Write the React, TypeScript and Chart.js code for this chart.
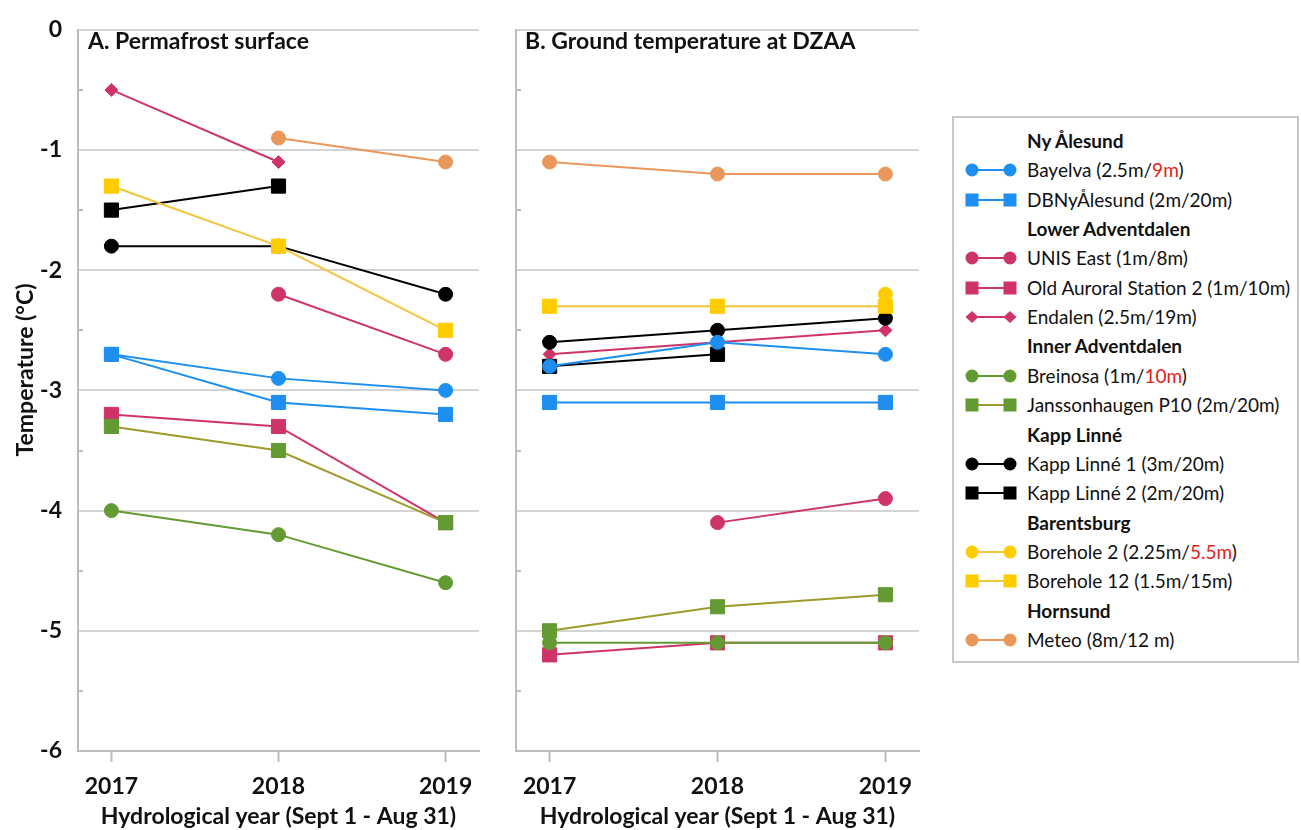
import React, { useEffect, useRef } from 'react';
import { Chart, registerables } from 'chart.js';
Chart.register(...registerables);

// ---------- data ----------
const YEARS = [2017, 2018, 2019];
const Y_MIN = -6;
const Y_MAX = 0;

const SERIES_NAMES = [
  'Bayelva', 'DBNyÅlesund', 'UNIS East', 'Old Auroral Station 2', 'Endalen',
  'Breinosa', 'Janssonhaugen P10', 'Kapp Linné 1', 'Kapp Linné 2',
  'Borehole 2', 'Borehole 12', 'Meteo',
];

// Panel A: permafrost surface
const A_BAYELVA = [-2.7, -2.9, -3.0];
const A_DBNY = [-2.7, -3.1, -3.2];
const A_UNIS = [null, -2.2, -2.7];
const A_OLDAUR = [-3.2, -3.3, -4.1];
const A_ENDALEN = [-0.5, -1.1, null];
const A_BREINOSA = [-4.0, -4.2, -4.6];
const A_JANSS = [-3.3, -3.5, -4.1];
const A_KL1 = [-1.8, -1.8, -2.2];
const A_KL2 = [-1.5, -1.3, null];
const A_BH2 = [null, null, null];
const A_BH12 = [-1.3, -1.8, -2.5];
const A_METEO = [null, -0.9, -1.1];

// Panel B: ground temperature at DZAA
const B_BAYELVA = [-2.8, -2.6, -2.7];
const B_DBNY = [-3.1, -3.1, -3.1];
const B_UNIS = [null, -4.1, -3.9];
const B_OLDAUR = [-5.2, -5.1, -5.1];
const B_ENDALEN = [-2.7, -2.6, -2.5];
const B_BREINOSA = [-5.1, -5.1, -5.1];
const B_JANSS = [-5.0, -4.8, -4.7];
const B_KL1 = [-2.6, -2.5, -2.4];
const B_KL2 = [-2.8, -2.7, null];
const B_BH2 = [null, null, -2.2];
const B_BH12 = [-2.3, -2.3, -2.3];
const B_METEO = [-1.1, -1.2, -1.2];

const PANEL_A = [A_BAYELVA, A_DBNY, A_UNIS, A_OLDAUR, A_ENDALEN, A_BREINOSA, A_JANSS, A_KL1, A_KL2, A_BH2, A_BH12, A_METEO];
const PANEL_B = [B_BAYELVA, B_DBNY, B_UNIS, B_OLDAUR, B_ENDALEN, B_BREINOSA, B_JANSS, B_KL1, B_KL2, B_BH2, B_BH12, B_METEO];

const PANEL_TITLES = ['A. Permafrost surface', 'B. Ground temperature at DZAA'];
const X_TITLE = 'Hydrological year (Sept 1 - Aug 31)';
const Y_TITLE = 'Temperature (°C)';

// legend texts ({...} = red part)
const LEGEND_ROWS: (string | number)[] = [
  'Ny Ålesund', 0, 1, 'Lower Adventdalen', 2, 3, 4, 'Inner Adventdalen', 5, 6,
  'Kapp Linné', 7, 8, 'Barentsburg', 9, 10, 'Hornsund', 11,
];
const LEGEND_LABELS = [
  'Bayelva (2.5m/{9m})', 'DBNyÅlesund (2m/20m)', 'UNIS East (1m/8m)',
  'Old Auroral Station 2 (1m/10m)', 'Endalen (2.5m/19m)', 'Breinosa (1m/{10m})',
  'Janssonhaugen P10 (2m/20m)', 'Kapp Linné 1 (3m/20m)', 'Kapp Linné 2 (2m/20m)',
  'Borehole 2 (2.25m/{5.5m})', 'Borehole 12 (1.5m/15m)', 'Meteo (8m/12 m)',
];

// ---------- styles ----------
const BLUE = '#1f8fef';
const PINK = '#cf3469';
const GREEN = '#639a32';
const OLIVE = '#a09a2c';
const YELLOW = '#ffcc00';
const YELLOW_LINE = '#f3c63a';
const ORANGE = '#e9975b';
const BLACK = '#000000';
const GRID = '#d4d4d4';
const AXIS = '#bdbdbd';
const RED = '#e3221b';
const FONT = 'Lato, "Open Sans", sans-serif';

type St = { fill: string; line: string; shape: string; order: number };
const STYLES: St[] = [
  { fill: BLUE, line: BLUE, shape: 'circle', order: 4 },
  { fill: BLUE, line: BLUE, shape: 'rect', order: 3 },
  { fill: PINK, line: PINK, shape: 'circle', order: 10 },
  { fill: PINK, line: PINK, shape: 'rect', order: 11 },
  { fill: PINK, line: PINK, shape: 'rectRot', order: 9 },
  { fill: GREEN, line: GREEN, shape: 'circle', order: 1 },
  { fill: GREEN, line: OLIVE, shape: 'rect', order: 2 },
  { fill: BLACK, line: BLACK, shape: 'circle', order: 7 },
  { fill: BLACK, line: BLACK, shape: 'rect', order: 8 },
  { fill: YELLOW, line: YELLOW_LINE, shape: 'circle', order: 6 },
  { fill: YELLOW, line: YELLOW_LINE, shape: 'rect', order: 5 },
  { fill: ORANGE, line: ORANGE, shape: 'circle', order: 12 },
];

function radiusFor(shape: string) {
  if (shape === 'rect') return 10;
  if (shape === 'rectRot') return 6.5;
  return 7;
}

function makeDatasets(values: (number | null)[][]) {
  return values.map((vals, i) => {
    const st = STYLES[i];
    return {
      label: SERIES_NAMES[i],
      data: YEARS.map((x, j) => ({ x, y: vals[j] })).filter((p) => p.y !== null),
      borderColor: st.line,
      backgroundColor: st.fill,
      pointBackgroundColor: st.fill,
      pointBorderColor: st.fill,
      pointBorderWidth: 1,
      pointStyle: st.shape,
      pointRadius: radiusFor(st.shape),
      borderWidth: 2,
      order: st.order,
      showLine: true,
    };
  });
}

const minorTicks = {
  id: 'minorTicks',
  beforeDatasetsDraw(chart: any) {
    const y = chart.scales.y;
    const ctx = chart.ctx;
    const left = chart.chartArea.left;
    ctx.save();
    ctx.strokeStyle = AXIS;
    ctx.lineWidth = 2;
    y.ticks.forEach((t: any) => {
      if (!Number.isInteger(t.value)) {
        const py = Math.round(y.getPixelForValue(t.value));
        ctx.beginPath();
        ctx.moveTo(left, py);
        ctx.lineTo(left + 5, py);
        ctx.stroke();
      }
    });
    ctx.restore();
  },
};

function makeOptions(showY: boolean, yWidth: number, padRight: number) {
  return {
    responsive: false,
    animation: false,
    layout: { padding: { top: 18, right: padRight, left: 0, bottom: 0 } },
    plugins: { legend: { display: false }, tooltip: { enabled: false }, title: { display: false } },
    scales: {
      x: {
        type: 'linear',
        min: 2016.8,
        max: 2019.2,
        afterFit: (s: any) => { s.height = 79; },
        grid: { drawOnChartArea: false, drawTicks: true, tickLength: 11, tickColor: AXIS, tickWidth: 2 },
        border: { display: true, color: AXIS, width: 2 },
        ticks: {
          stepSize: 1,
          includeBounds: false,
          padding: 11,
          color: '#111',
          font: { family: FONT, size: 23, weight: 'bold' },
          callback: (v: number) => (Number.isInteger(v) ? String(v) : ''),
        },
        title: {
          display: true,
          text: X_TITLE,
          color: '#111',
          font: { family: FONT, size: 23, weight: 'bold' },
          padding: { top: 0, bottom: 0 },
        },
      },
      y: {
        type: 'linear',
        min: Y_MIN,
        max: Y_MAX,
        afterFit: (s: any) => { s.width = yWidth; },
        grid: {
          drawTicks: false,
          lineWidth: 2,
          color: (c: any) => (c.tick && Number.isInteger(c.tick.value) ? GRID : 'rgba(0,0,0,0)'),
        },
        border: { display: true, color: AXIS, width: 2 },
        ticks: {
          stepSize: 0.5,
          padding: 16,
          color: '#111',
          font: { family: FONT, size: 23, weight: 'bold' },
          callback: (v: number) => (showY && Number.isInteger(v) ? String(v === 0 ? 0 : v) : ''),
        },
        title: { display: false },
      },
    },
  };
}

function Panel({ values, showY, left, width, yWidth, padRight }: any) {
  const ref = useRef<HTMLCanvasElement>(null);
  useEffect(() => {
    const chart = new Chart(ref.current as HTMLCanvasElement, {
      type: 'line',
      data: { datasets: makeDatasets(values) as any },
      options: makeOptions(showY, yWidth, padRight) as any,
      plugins: [minorTicks],
    });
    return () => chart.destroy();
  }, []);
  return (
    <canvas
      ref={ref}
      width={width}
      height={830}
      style={{ position: 'absolute', left, top: 0, width, height: 830, display: 'block' }}
    />
  );
}

function renderLabel(text: string) {
  const parts = text.split(/(\{[^}]*\})/).filter((p) => p.length);
  return parts.map((p, i) =>
    p.startsWith('{') ? (
      <span key={i} style={{ color: RED }}>{p.slice(1, -1)}</span>
    ) : (
      <span key={i}>{p}</span>
    )
  );
}

function Symbol({ st }: { st: St }) {
  const marker = (cx: number) => {
    if (st.shape === 'rect') return <rect x={cx - 6.5} y={3.5} width={13} height={13} fill={st.fill} />;
    if (st.shape === 'rectRot')
      return <polygon points={`${cx},${4} ${cx + 6.5},${10} ${cx},${16} ${cx - 6.5},${10}`} fill={st.fill} />;
    return <circle cx={cx} cy={10} r={6.5} fill={st.fill} />;
  };
  return (
    <svg width={60} height={20} style={{ position: 'absolute', left: 962, top: -10 }}>
      <line x1={10} y1={10} x2={48} y2={10} stroke={st.line} strokeWidth={2} />
      {marker(10)}
      {marker(48)}
    </svg>
  );
}

const titleStyle: any = {
  position: 'absolute', top: 25, fontSize: 23, fontWeight: 700, lineHeight: '30px', whiteSpace: 'nowrap',
};

export default function App() {
  return (
    <div
      style={{
        position: 'absolute', left: 0, top: 0, width: 1301, height: 830,
        overflow: 'hidden', background: '#fff', fontFamily: FONT, color: '#111',
      }}
    >
      <Panel values={PANEL_A} showY={true} left={0} width={490} yWidth={78} padRight={9} />
      <Panel values={PANEL_B} showY={false} left={490} width={440} yWidth={26} padRight={11} />
      <div style={{ ...titleStyle, left: 88 }}>{PANEL_TITLES[0]}</div>
      <div style={{ ...titleStyle, left: 525 }}>{PANEL_TITLES[1]}</div>
      <div
        style={{
          position: 'absolute', left: 24 - 150, top: 370 - 15, width: 300, height: 30,
          lineHeight: '30px', textAlign: 'center', fontSize: 23, fontWeight: 700,
          transform: 'rotate(-90deg)', whiteSpace: 'nowrap',
        }}
      >
        {Y_TITLE}
      </div>
      <div
        style={{
          position: 'absolute', left: 952, top: 116, width: 347, height: 547,
          boxSizing: 'border-box', border: '2px solid #c8c8c8', background: '#fff',
        }}
      />
      {LEGEND_ROWS.map((row, i) => {
        const cy = 141 + i * 29.35;
        if (typeof row === 'string') {
          return (
            <div key={i} style={{ position: 'absolute', left: 1027, top: cy - 13, fontSize: 19, fontWeight: 700, lineHeight: '26px', whiteSpace: 'nowrap' }}>
              {row}
            </div>
          );
        }
        return (
          <div key={i} style={{ position: 'absolute', left: 0, top: cy, width: 1301, height: 0 }}>
            <Symbol st={STYLES[row]} />
            <div style={{ position: 'absolute', left: 1027, top: -13, fontSize: 19, lineHeight: '26px', whiteSpace: 'nowrap' }}>
              {renderLabel(LEGEND_LABELS[row])}
            </div>
          </div>
        );
      })}
    </div>
  );
}
